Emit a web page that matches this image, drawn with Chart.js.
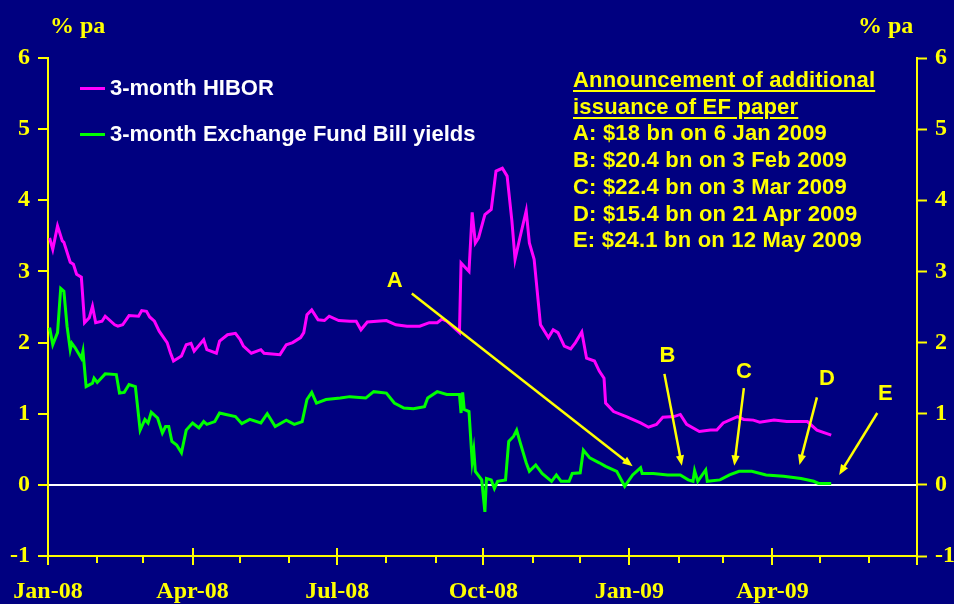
<!DOCTYPE html>
<html>
<head>
<meta charset="utf-8">
<script src="https://cdn.jsdelivr.net/npm/chart.js@4/dist/chart.umd.min.js"></script>
<style>
  html, body { margin: 0; padding: 0; background: #000080; }
  #wrap { position: relative; width: 954px; height: 604px; overflow: hidden; }
  canvas { position: absolute; left: 0; top: 0; }
  .unit { position: absolute; top: 12px; font: bold 24px "Liberation Serif", "Times New Roman", serif; color: #ffff00; line-height: 26px; }
  .legend { position: absolute; left: 80px; font: bold 22px "Liberation Sans", Arial, sans-serif; color: #ffffff; line-height: 24px; display: flex; align-items: center; }
  .legend span.sw { display: inline-block; width: 25px; height: 3px; margin-right: 5px; }
  #notes { position: absolute; left: 573px; top: 67px; font: bold 22px "Liberation Sans", Arial, sans-serif; color: #ffff00; line-height: 26.7px; white-space: nowrap; letter-spacing: 0.2px; }
  #notes .u { text-decoration: underline; text-decoration-thickness: 2px; text-underline-offset: 3px; }
</style>
</head>
<body>
<div id="wrap">
  <canvas id="chart" width="954" height="604"></canvas>
  <div class="unit" style="left:50px">% pa</div>
  <div class="unit" style="left:858px">% pa</div>
  <div class="legend" style="top:76px"><span class="sw" style="background:#ff00ff"></span>3-month HIBOR</div>
  <div class="legend" style="top:122px"><span class="sw" style="background:#00ff00"></span>3-month Exchange Fund Bill yields</div>
  <div id="notes">
    <div class="u">Announcement of additional</div>
    <div class="u">issuance of EF paper</div>
    <div>A: $18 bn on 6 Jan 2009</div>
    <div>B: $20.4 bn on 3 Feb 2009</div>
    <div>C: $22.4 bn on 3 Mar 2009</div>
    <div>D: $15.4 bn on 21 Apr 2009</div>
    <div>E: $24.1 bn on 12 May 2009</div>
  </div>
</div>
<script>
const axisLabels = ['Jan-08', 'Apr-08', 'Jul-08', 'Oct-08', 'Jan-09', 'Apr-09'];

const hiborDates = [
    '2008-01-02','2008-01-04','2008-01-07','2008-01-10','2008-01-11','2008-01-15','2008-01-17','2008-01-19','2008-01-22','2008-01-24',
    '2008-01-27','2008-01-29','2008-01-31','2008-02-04','2008-02-06','2008-02-12','2008-02-14','2008-02-17','2008-02-21','2008-02-27',
    '2008-02-29','2008-03-03','2008-03-05','2008-03-08','2008-03-11','2008-03-16','2008-03-18','2008-03-20','2008-03-25','2008-03-28',
    '2008-03-31','2008-04-02','2008-04-08','2008-04-10','2008-04-16','2008-04-18','2008-04-23','2008-04-28','2008-05-01','2008-05-03',
    '2008-05-08','2008-05-14','2008-05-16','2008-05-26','2008-05-30','2008-06-03','2008-06-08','2008-06-10','2008-06-12','2008-06-15',
    '2008-06-19','2008-06-23','2008-06-26','2008-07-02','2008-07-09','2008-07-13','2008-07-16','2008-07-20','2008-08-01','2008-08-07',
    '2008-08-14','2008-08-22','2008-08-28','2008-09-02','2008-09-05','2008-09-08','2008-09-16','2008-09-17','2008-09-22','2008-09-24',
    '2008-09-26','2008-09-28','2008-10-02','2008-10-06','2008-10-09','2008-10-13','2008-10-16','2008-10-19','2008-10-21','2008-10-24',
    '2008-10-28','2008-10-30','2008-11-02','2008-11-06','2008-11-11','2008-11-14','2008-11-17','2008-11-21','2008-11-25','2008-11-28',
    '2008-12-02','2008-12-05','2008-12-10','2008-12-13','2008-12-16','2008-12-17','2008-12-22','2008-12-30','2009-01-08','2009-01-13',
    '2009-01-18','2009-01-22','2009-01-29','2009-02-02','2009-02-06','2009-02-14','2009-02-21','2009-02-25','2009-03-01','2009-03-10',
    '2009-03-14','2009-03-20','2009-03-24','2009-04-02','2009-04-10','2009-04-23','2009-04-29','2009-05-08'
];
const hiborValues = [
    3.47, 3.31, 3.64, 3.43, 3.41, 3.13, 3.10, 2.96, 2.92, 2.28,
    2.35, 2.51, 2.28, 2.30, 2.37, 2.25, 2.23, 2.25, 2.38, 2.37,
    2.45, 2.44, 2.36, 2.30, 2.16, 2.00, 1.86, 1.74, 1.81, 1.97,
    1.99, 1.88, 2.04, 1.90, 1.85, 2.02, 2.11, 2.13, 2.04, 1.95,
    1.85, 1.90, 1.85, 1.83, 1.97, 2.00, 2.07, 2.14, 2.39, 2.46,
    2.32, 2.31, 2.37, 2.31, 2.30, 2.30, 2.18, 2.29, 2.31, 2.25,
    2.23, 2.23, 2.28, 2.28, 2.33, 2.30, 2.14, 3.12, 3.00, 3.83,
    3.40, 3.47, 3.80, 3.87, 4.41, 4.45, 4.34, 3.71, 3.17, 3.47,
    3.85, 3.40, 3.17, 2.25, 2.07, 2.18, 2.14, 1.95, 1.91, 2.00,
    2.15, 1.78, 1.74, 1.60, 1.50, 1.15, 1.03, 0.96, 0.87, 0.81,
    0.85, 0.95, 0.96, 0.99, 0.85, 0.75, 0.77, 0.77, 0.87, 0.96,
    0.92, 0.91, 0.88, 0.91, 0.89, 0.89, 0.77, 0.70
];

const efbDates = [
    '2008-01-02','2008-01-04','2008-01-07','2008-01-09','2008-01-11','2008-01-13','2008-01-15','2008-01-16','2008-01-18','2008-01-22',
    '2008-01-23','2008-01-25','2008-01-29','2008-01-30','2008-02-01','2008-02-06','2008-02-13','2008-02-15','2008-02-18','2008-02-21',
    '2008-02-25','2008-02-28','2008-03-02','2008-03-04','2008-03-06','2008-03-10','2008-03-13','2008-03-15','2008-03-17','2008-03-19',
    '2008-03-22','2008-03-25','2008-03-28','2008-04-01','2008-04-05','2008-04-08','2008-04-10','2008-04-15','2008-04-18','2008-04-22',
    '2008-04-28','2008-05-02','2008-05-07','2008-05-14','2008-05-18','2008-05-23','2008-05-30','2008-06-04','2008-06-09','2008-06-12',
    '2008-06-15','2008-06-18','2008-06-24','2008-07-03','2008-07-09','2008-07-19','2008-07-24','2008-08-01','2008-08-06','2008-08-12',
    '2008-08-18','2008-08-25','2008-08-27','2008-09-02','2008-09-08','2008-09-16','2008-09-17','2008-09-18','2008-09-19','2008-09-22',
    '2008-09-24','2008-09-25','2008-09-26','2008-09-30','2008-10-02','2008-10-03','2008-10-06','2008-10-08','2008-10-10','2008-10-15',
    '2008-10-17','2008-10-20','2008-10-22','2008-10-24','2008-10-28','2008-10-30','2008-11-03','2008-11-07','2008-11-13','2008-11-16',
    '2008-11-19','2008-11-24','2008-11-26','2008-12-01','2008-12-03','2008-12-07','2008-12-13','2008-12-17','2008-12-24','2008-12-29',
    '2009-01-03','2009-01-08','2009-01-09','2009-01-16','2009-01-25','2009-02-02','2009-02-07','2009-02-10','2009-02-11','2009-02-13',
    '2009-02-18','2009-02-19','2009-02-27','2009-03-05','2009-03-11','2009-03-19','2009-03-28','2009-04-08','2009-04-19','2009-04-27',
    '2009-04-30','2009-05-08'
];
const efbValues = [
    2.21, 1.97, 2.14, 2.76, 2.72, 2.23, 1.90, 1.99, 1.93, 1.78,
    1.88, 1.38, 1.43, 1.50, 1.44, 1.56, 1.55, 1.29, 1.30, 1.41,
    1.38, 0.77, 0.92, 0.87, 1.02, 0.94, 0.73, 0.82, 0.82, 0.61,
    0.56, 0.45, 0.77, 0.87, 0.80, 0.89, 0.85, 0.89, 1.01, 0.99,
    0.96, 0.86, 0.92, 0.87, 1.00, 0.82, 0.91, 0.85, 0.89, 1.20,
    1.30, 1.15, 1.20, 1.22, 1.24, 1.22, 1.31, 1.29, 1.15, 1.08,
    1.07, 1.10, 1.22, 1.31, 1.27, 1.27, 1.01, 1.30, 1.06, 1.03,
    0.33, 0.49, 0.19, 0.07, -0.38, 0.09, 0.07, -0.05, 0.05, 0.07,
    0.61, 0.68, 0.77, 0.61, 0.31, 0.19, 0.28, 0.16, 0.05, 0.14,
    0.05, 0.05, 0.16, 0.17, 0.49, 0.38, 0.31, 0.26, 0.19, -0.02,
    0.14, 0.24, 0.16, 0.16, 0.14, 0.14, 0.07, 0.05, 0.20, 0.05,
    0.21, 0.05, 0.07, 0.14, 0.19, 0.19, 0.14, 0.12, 0.09, 0.05,
    0.02, 0.02
];

// announcement arrows: letter, tail (date, % pa), tip (date, % pa)
const arrowLetters = ['A', 'B', 'C', 'D', 'E'];
const arrowTails = [['2008-08-17', 2.69], ['2009-01-23', 1.56], ['2009-03-14', 1.36], ['2009-04-29', 1.23], ['2009-06-06', 1.01]];
const arrowTips = [['2009-01-03', 0.26], ['2009-02-03', 0.27], ['2009-03-08', 0.27], ['2009-04-18', 0.28], ['2009-05-13', 0.14]];
const letterOffsets = [[-17, -13], [3, -18], [0, -16], [10, -18], [8, -19]];

const YELLOW = '#ffff00';
const START = Date.UTC(2008, 0, 1);
const dayOf = s => Math.round((Date.parse(s) - START) / 86400000);

const monthTicks = [];
for (let m = 0; m <= 18; m++) monthTicks.push(Math.round((Date.UTC(2008, m, 1) - START) / 86400000));

const toPoints = (dates, vals) => dates.map((d, i) => ({ x: dayOf(d), y: vals[i] }));

const extras = {
    id: 'extras',
    afterDatasetsDraw(chart) {
        const { ctx, scales: { x, y } } = chart;
        ctx.save();
        ctx.strokeStyle = YELLOW;
        ctx.fillStyle = YELLOW;
        ctx.lineWidth = 2.5;
        arrowLetters.forEach((letter, i) => {
            const x1 = x.getPixelForValue(dayOf(arrowTails[i][0]));
            const y1 = y.getPixelForValue(arrowTails[i][1]);
            const x2 = x.getPixelForValue(dayOf(arrowTips[i][0]));
            const y2 = y.getPixelForValue(arrowTips[i][1]);
            const ang = Math.atan2(y2 - y1, x2 - x1);
            const head = 11;
            ctx.beginPath();
            ctx.moveTo(x1, y1);
            ctx.lineTo(x2 - Math.cos(ang) * head * 0.8, y2 - Math.sin(ang) * head * 0.8);
            ctx.stroke();
            ctx.beginPath();
            ctx.moveTo(x2, y2);
            ctx.lineTo(x2 - head * Math.cos(ang - 0.38), y2 - head * Math.sin(ang - 0.38));
            ctx.lineTo(x2 - head * Math.cos(ang + 0.38), y2 - head * Math.sin(ang + 0.38));
            ctx.closePath();
            ctx.fill();
            ctx.font = 'bold 22px "Liberation Sans", Arial, sans-serif';
            ctx.textAlign = 'center';
            ctx.textBaseline = 'middle';
            ctx.fillText(letter, x1 + letterOffsets[i][0], y1 + letterOffsets[i][1]);
        });
        ctx.restore();
    },
    afterDraw(chart) {
        // monthly tick marks on the date axis, longer ones at quarter starts
        const { ctx, scales: { x } } = chart;
        const base = chart.chartArea.bottom;
        ctx.save();
        ctx.strokeStyle = YELLOW;
        ctx.lineWidth = 2;
        monthTicks.forEach((d, i) => {
            const px = Math.round(x.getPixelForValue(d));
            const major = i % 3 === 0;
            ctx.beginPath();
            ctx.moveTo(px, major ? base - 8 : base);
            ctx.lineTo(px, major ? base + 9 : base + 7);
            ctx.stroke();
        });
        ctx.restore();
    }
};

const tickFont = { family: '"Liberation Serif", "Times New Roman", serif', size: 24, weight: 'bold' };

new Chart(document.getElementById('chart'), {
    type: 'line',
    data: {
        datasets: [{
            label: '3-month HIBOR',
            data: toPoints(hiborDates, hiborValues),
            borderColor: '#ff00ff',
            borderWidth: 3,
            pointRadius: 0,
            tension: 0
        }, {
            label: '3-month Exchange Fund Bill yields',
            data: toPoints(efbDates, efbValues),
            borderColor: '#00ff00',
            borderWidth: 3,
            pointRadius: 0,
            tension: 0
        }]
    },
    options: {
        responsive: false,
        animation: false,
        layout: { padding: { top: 58, left: 0, right: 0, bottom: 0 } },
        plugins: { legend: { display: false }, tooltip: { enabled: false } },
        scales: {
            x: {
                type: 'linear',
                min: 0,
                max: monthTicks[monthTicks.length - 1],
                afterBuildTicks: scale => { scale.ticks = monthTicks.map(v => ({ value: v })); },
                afterFit: scale => { scale.height = 48; },
                // invisible tick marks only push the labels down; real ticks are drawn by the plugin
                grid: { drawOnChartArea: false, drawTicks: true, tickLength: 21, tickColor: 'rgba(0,0,0,0)' },
                border: { color: YELLOW, width: 2 },
                ticks: {
                    autoSkip: false,
                    maxRotation: 0,
                    padding: 0,
                    color: YELLOW,
                    font: tickFont,
                    callback: value => {
                        const i = monthTicks.indexOf(value);
                        return (i % 3 === 0 && i / 3 < axisLabels.length) ? axisLabels[i / 3] : '';
                    }
                }
            },
            y: {
                position: 'left',
                min: -1,
                max: 6,
                afterFit: scale => { scale.width = 48; },
                grid: {
                    color: c => c.tick && c.tick.value === 0 ? '#ffffff' : 'rgba(0,0,0,0)',
                    lineWidth: 2,
                    tickColor: YELLOW,
                    tickLength: 10,
                    tickWidth: 2
                },
                border: { color: YELLOW, width: 2 },
                ticks: { stepSize: 1, padding: 8, color: YELLOW, font: tickFont }
            },
            y2: {
                position: 'right',
                min: -1,
                max: 6,
                afterFit: scale => { scale.width = 37; },
                grid: { drawOnChartArea: false, tickColor: YELLOW, tickLength: 10, tickWidth: 2 },
                border: { color: YELLOW, width: 2 },
                ticks: { stepSize: 1, padding: 8, color: YELLOW, font: tickFont }
            }
        }
    },
    plugins: [extras]
});
</script>
</body>
</html>
